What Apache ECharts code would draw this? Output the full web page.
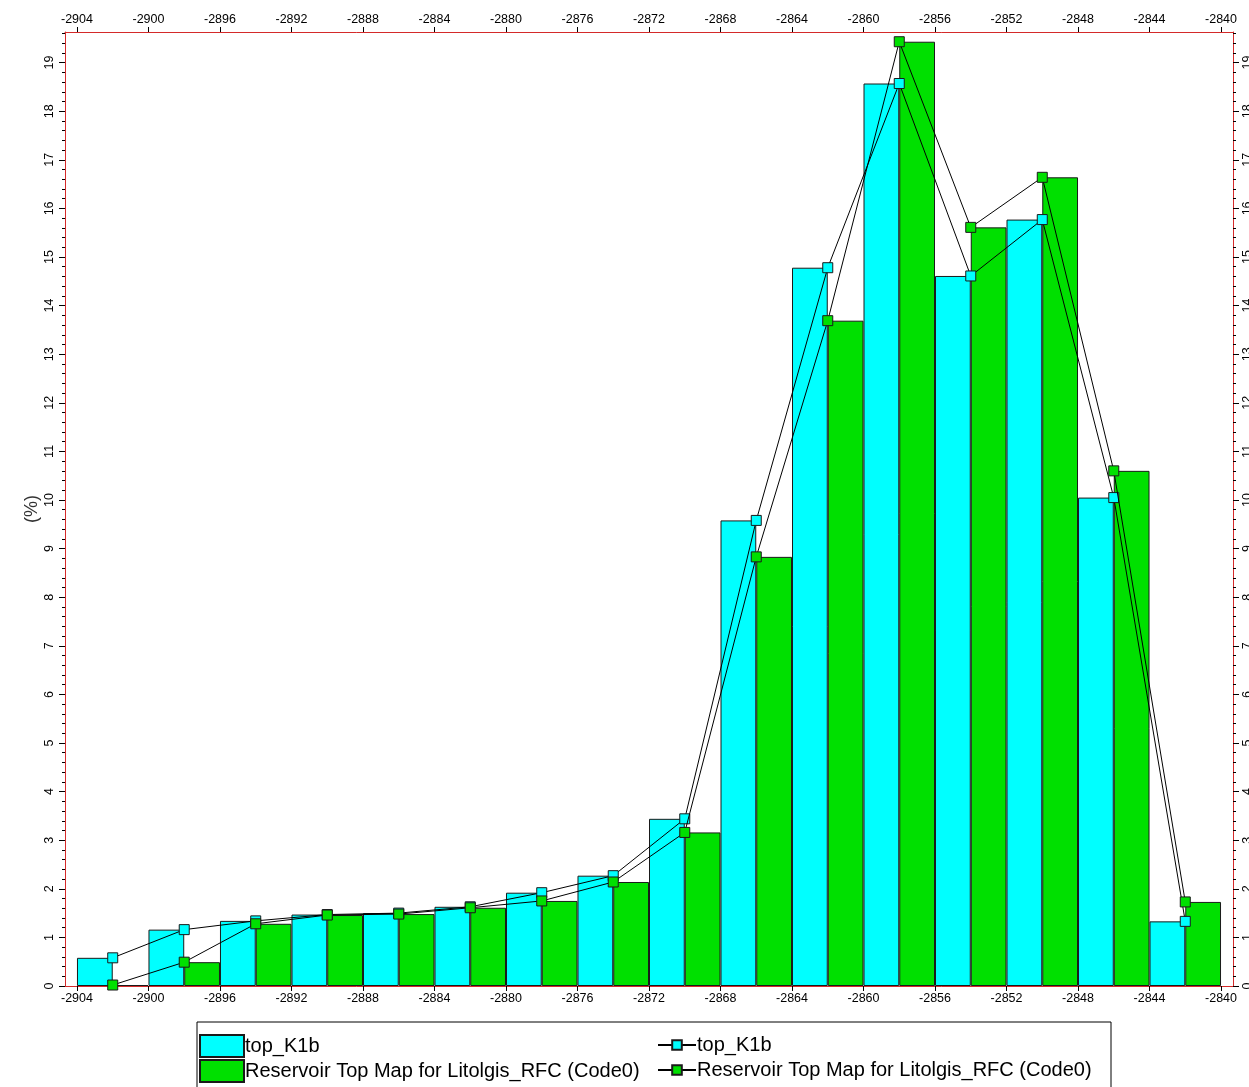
<!DOCTYPE html>
<html>
<head>
<meta charset="utf-8">
<script src="https://cdn.jsdelivr.net/npm/echarts@6/dist/echarts.min.js"></script>
<style>
  html, body { margin: 0; padding: 0; background: #fff; }
  #chart { width: 1249px; height: 1087px; }
</style>
</head>
<body>
<div id="chart"></div>
<script>
// bin centres (depth) and percentages per bin
const binCenters = [-2902, -2898, -2894, -2890, -2886, -2882, -2878, -2874, -2870, -2866, -2862, -2858, -2854, -2850, -2846, -2842];
const topK1b = [0.58, 1.16, 1.34, 1.47, 1.5, 1.63, 1.92, 2.27, 3.44, 9.58, 14.78, 18.57, 14.61, 15.77, 10.05, 1.33];
const reservoirTop = [0.02, 0.49, 1.28, 1.46, 1.48, 1.61, 1.75, 2.14, 3.16, 8.83, 13.69, 19.43, 15.61, 16.64, 10.6, 1.73];
const xTicks = [-2904, -2900, -2896, -2892, -2888, -2884, -2880, -2876, -2872, -2868, -2864, -2860, -2856, -2852, -2848, -2844, -2840];
const yTicks = [0, 1, 2, 3, 4, 5, 6, 7, 8, 9, 10, 11, 12, 13, 14, 15, 16, 17, 18, 19];

const nameK1b = "top_K1b";
const nameRes = "Reservoir Top Map for Litolgis_RFC (Code0)";

const chart = echarts.init(document.getElementById("chart"));

const FONT = "Liberation Sans, Arial, sans-serif";
const RED = "#d42a2a";

function xAxisDef(pos) {
  return {
    type: "value",
    position: pos,
    min: -2904.67,
    max: -2839.33,
    axisLine: { show: true, onZero: false, lineStyle: { color: RED, width: 1 } },
    axisTick: { show: true, customValues: xTicks, length: 5, lineStyle: { color: "#000" } },
    axisLabel: {
      customValues: xTicks,
      formatter: (v) => String(v),
      color: "#000",
      fontSize: 12.5,
      fontFamily: FONT,
      margin: 6,
    },
    splitLine: { show: false },
  };
}

function yAxisDef(pos, margin) {
  return {
    type: "value",
    position: pos,
    min: 0,
    max: 19.63,
    interval: 1,
    axisLine: { show: true, lineStyle: { color: RED, width: 1 } },
    axisTick: { show: true, customValues: yTicks, length: 6, lineStyle: { color: "#000" } },
    minorTick: { show: true, splitNumber: 5, length: 3, lineStyle: { color: "#000" } },
    axisLabel: {
      customValues: yTicks,
      formatter: (v) => String(v),
      rotate: 90,
      color: "#000",
      fontSize: 12.5,
      fontFamily: FONT,
      margin: margin,
    },
    splitLine: { show: false },
  };
}

const leftY = yAxisDef("left", 9);
leftY.name = "(%)";
leftY.nameLocation = "middle";
leftY.nameRotate = 90;
leftY.nameGap = 24;
leftY.nameMoveOverlap = false;
leftY.nameTextStyle = { color: "#333", fontSize: 18, fontFamily: FONT };

const legendText = { color: "#000", fontSize: 20, fontFamily: FONT, lineHeight: 22, padding: [0, 0, 0, -4] };

// one legend per row so the two columns line up
function barLegend(name, top) {
  return {
    data: [name],
    left: 199,
    top: top,
    icon: "rect",
    itemWidth: 44,
    itemHeight: 22,
    padding: 0,
    selectedMode: false,
    textStyle: legendText,
  };
}
function lineLegend(name, top) {
  return {
    data: [name],
    left: 657,
    top: top,
    itemWidth: 38,
    itemHeight: 12,
    padding: 0,
    selectedMode: false,
    textStyle: legendText,
  };
}

chart.setOption({
  animation: false,
  backgroundColor: "#fff",
  grid: { left: 65, right: 16, top: 32, bottom: 101, containLabel: false, outerBoundsMode: "none" },
  xAxis: [xAxisDef("bottom"), xAxisDef("top")],
  yAxis: [leftY, yAxisDef("right", 8)],
  legend: [
    barLegend(nameK1b, 1034),
    barLegend(nameRes, 1059),
    lineLegend(nameK1b + " ", 1034),
    lineLegend(nameRes + " ", 1059),
  ],
  graphic: [
    {
      type: "rect",
      shape: { x: 197, y: 1022, width: 914, height: 66 },
      style: { fill: "none", stroke: "#000", lineWidth: 1 },
      silent: true,
    },
  ],
  series: [
    {
      name: nameK1b,
      type: "bar",
      barWidth: 35.75,
      barGap: "-100%",
      data: binCenters.map((c, i) => [c - 1, topK1b[i]]),
      itemStyle: { color: "#00ffff", borderColor: "#1a1a1a", borderWidth: 1 },
      z: 2,
    },
    {
      name: nameRes,
      type: "bar",
      barWidth: 35.75,
      barGap: "-100%",
      data: binCenters.map((c, i) => [c + 1, reservoirTop[i]]),
      itemStyle: { color: "#00e000", borderColor: "#1a1a1a", borderWidth: 1 },
      z: 2,
    },
    {
      name: nameK1b + " ",
      type: "line",
      data: binCenters.map((c, i) => [c, topK1b[i]]),
      symbol: "rect",
      symbolSize: 10,
      lineStyle: { color: "#000", width: 1 },
      itemStyle: { color: "#00ffff", borderColor: "#1a1a1a", borderWidth: 1 },
      z: 5,
    },
    {
      name: nameRes + " ",
      type: "line",
      data: binCenters.map((c, i) => [c, reservoirTop[i]]),
      symbol: "rect",
      symbolSize: 10,
      lineStyle: { color: "#000", width: 1 },
      itemStyle: { color: "#00e000", borderColor: "#1a1a1a", borderWidth: 1 },
      z: 6,
    },
  ],
});

window.addEventListener("resize", function () {
  chart.resize();
});
</script>
</body>
</html>
